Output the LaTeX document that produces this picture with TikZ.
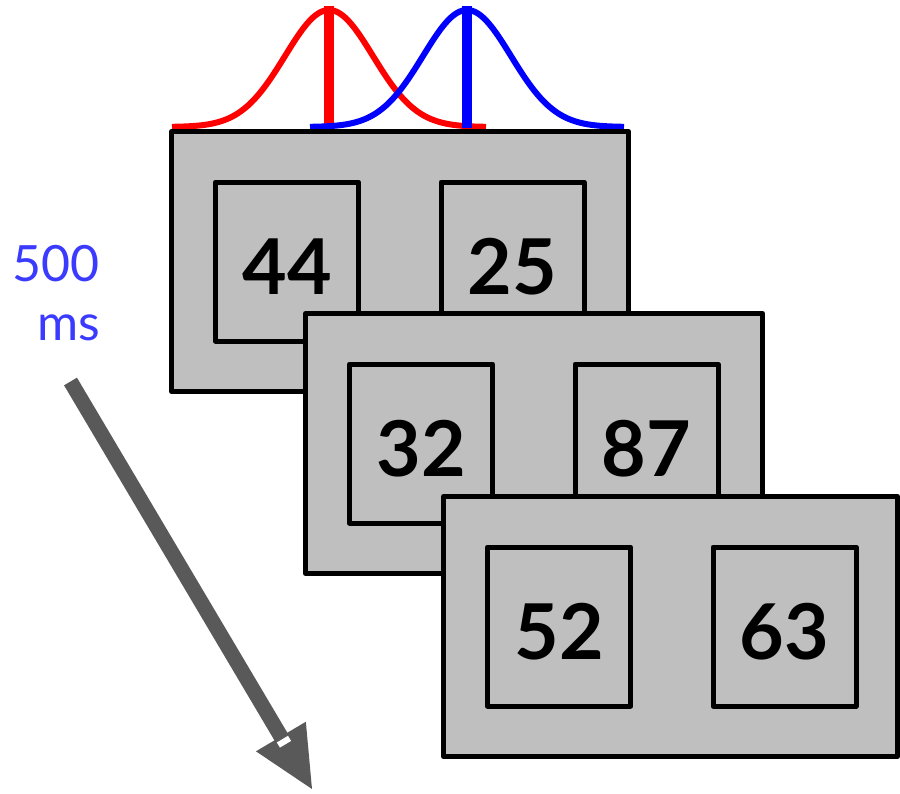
\documentclass[tikz,border=0pt]{standalone}
\usepackage{fontspec}
\setmainfont{Lato}
\usetikzlibrary{calc}
\definecolor{panelgray}{RGB}{191,191,191}
\definecolor{arrowgray}{RGB}{89,89,89}
\definecolor{msblue}{RGB}{59,59,255}
\begin{document}
\begin{tikzpicture}[x=1pt,y=-1pt,
  panel/.style={draw=black, fill=panelgray, line width=5pt, minimum width=457pt, minimum height=260pt, inner sep=0pt, outer sep=0pt, line join=round},
  numbox/.style={draw=black, line width=5pt, minimum width=143pt, minimum height=159pt, inner sep=0pt, outer sep=0pt, line join=round, text height=65pt, text depth=0pt, font=\bfseries\fontsize{77}{77}\selectfont},
  gauss/.style={line width=6pt},
  peakline/.style={line width=10pt},
  lbl/.style={text=msblue, font=\fontsize{50}{50}\selectfont, inner sep=0pt, anchor=base east}
]
\useasboundingbox (0,0) rectangle (900,793);

% Gaussian curves
\draw[gauss, red] plot[domain=172:486, samples=150, smooth] (\x, {127-117*exp(-0.5*((\x-329)/44)^2)});
\draw[peakline, red] (329,128) -- (329,6);
\draw[gauss, blue] plot[domain=310:624, samples=150, smooth] (\x, {127-117*exp(-0.5*((\x-467)/44)^2)});
\draw[peakline, blue] (467,128) -- (467,6);

% Panel 1
\node[panel] (p1) at (400,261.5) {};
\node[numbox] (p1a) at ($(p1.west)+(115.5,0)$) {44};
\node[numbox] (p1b) at ($(p1.west)+(341,0)$) {25};
% Panel 2
\node[panel] (p2) at (534,443.5) {};
\node[numbox] (p2a) at ($(p2.west)+(115.5,0)$) {32};
\node[numbox] (p2b) at ($(p2.west)+(341,0)$) {87};
% Panel 3
\node[panel, minimum width=454pt] (p3) at (670.5,626.5) {};
\node[numbox] (p3a) at ($(p3.west)+(115.5,0)$) {52};
\node[numbox] (p3b) at ($(p3.west)+(341,0)$) {63};

% Time arrow
\coordinate (as) at (70.5,381.5);
\coordinate (at) at (312,789);
\coordinate (hb) at ($(at)!61pt!(as)$);
\coordinate (hl) at ($(hb)!29pt!90:(at)$);
\coordinate (hr) at ($(hb)!29pt!-90:(at)$);
\draw[arrowgray, line width=15pt] (as) -- ($(hb)!8pt!(at)$);
\fill[arrowgray] (hl) -- (at) -- (hr) -- cycle;
\coordinate (c1) at ($(hb)!3pt!(at)$);
\coordinate (c2) at ($(hb)!9pt!(at)$);
\fill[white] ($(c1)!6.5pt!90:(at)$) -- ($(c2)!6.5pt!90:(at)$) -- ($(c2)!6.5pt!-90:(at)$) -- ($(c1)!6.5pt!-90:(at)$) -- cycle;

% Label
\node[lbl] (t500) at (99.5,281) {500};
\node[lbl] (tms) at (100,340) {ms};
\end{tikzpicture}
\end{document}
